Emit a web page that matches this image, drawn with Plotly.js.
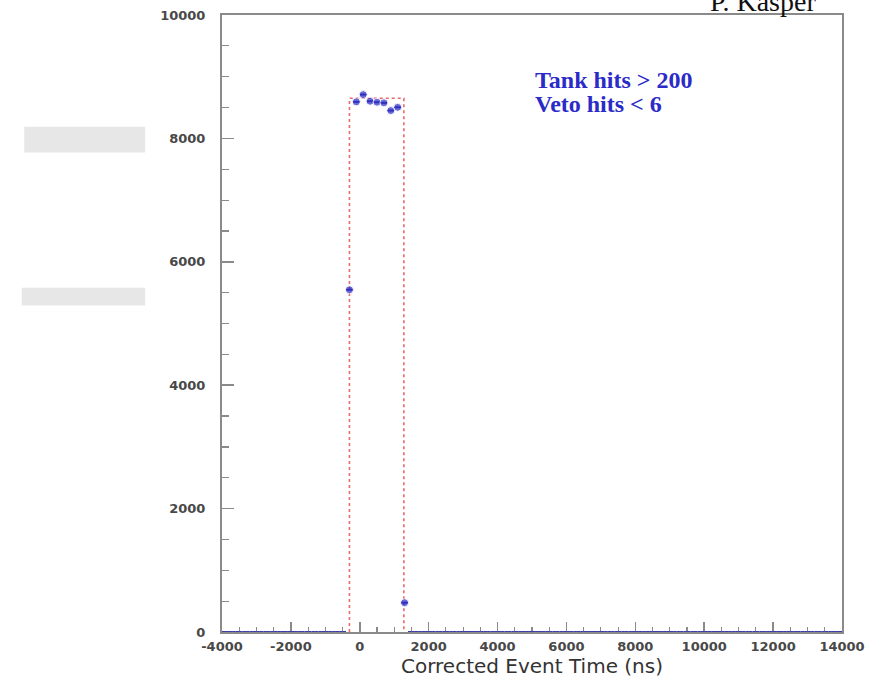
<!DOCTYPE html>
<html>
<head>
<meta charset="utf-8">
<script src="https://cdn.plot.ly/plotly-3.0.1.min.js"></script>
<style>
  html, body { margin: 0; padding: 0; background: #fff; }
  #chart { width: 886px; height: 683px; }
</style>
</head>
<body>
<div id="chart"></div>
<script>
// Histogram of corrected event times, 200 ns bins from -4000 to 14000 ns
const binCenters = [
  -3900, -3700, -3500, -3300, -3100, -2900, -2700, -2500, -2300, -2100,
  -1900, -1700, -1500, -1300, -1100, -900, -700, -500, -300, -100,
  100, 300, 500, 700, 900, 1100, 1300, 1500, 1700, 1900,
  2100, 2300, 2500, 2700, 2900, 3100, 3300, 3500, 3700, 3900,
  4100, 4300, 4500, 4700, 4900, 5100, 5300, 5500, 5700, 5900,
  6100, 6300, 6500, 6700, 6900, 7100, 7300, 7500, 7700, 7900,
  8100, 8300, 8500, 8700, 8900, 9100, 9300, 9500, 9700, 9900,
  10100, 10300, 10500, 10700, 10900, 11100, 11300, 11500, 11700, 11900,
  12100, 12300, 12500, 12700, 12900, 13100, 13300, 13500, 13700, 13900
];
const eventCounts = [
  0, 0, 0, 0, 0, 0, 0, 0, 0, 0,
  0, 0, 0, 0, 0, 0, 0, 0, 5547, 8592,
  8710, 8602, 8586, 8576, 8451, 8504, 475, 0, 0, 0,
  0, 0, 0, 0, 0, 0, 0, 0, 0, 0,
  0, 0, 0, 0, 0, 0, 0, 0, 0, 0,
  0, 0, 0, 0, 0, 0, 0, 0, 0, 0,
  0, 0, 0, 0, 0, 0, 0, 0, 0, 0,
  0, 0, 0, 0, 0, 0, 0, 0, 0, 0,
  0, 0, 0, 0, 0, 0, 0, 0, 0, 0
];
const binHalfWidth = 100;

// Beam gate window drawn as a dotted box
const gateX = [-300, -300, 1280, 1280];
const gateY = [0, 8650, 8650, 0];

const xTickVals = [-4000, -2000, 0, 2000, 4000, 6000, 8000, 10000, 12000, 14000];
const xTickText = ['-4000', '-2000', '0', '2000', '4000', '6000', '8000', '10000', '12000', '14000'];
const yTickVals = [0, 2000, 4000, 6000, 8000, 10000];
const yTickText = ['0', '2000', '4000', '6000', '8000', '10000'];

const cutLines = ['Tank hits > 200', 'Veto hits < 6'];
const author = 'P. Kasper';

const blue = '#2b2bc8';
const axisGrey = '#8a8a8a';
const tickFont = { family: 'DejaVu Sans', size: 13, color: '#484848', weight: 'bold' };
const cutFont = { family: 'Liberation Serif', size: 24, color: blue, weight: 'bold' };

const gate = {
  x: gateX, y: gateY, type: 'scatter', mode: 'lines',
  line: { color: '#e86a6a', width: 1.6, dash: 'dot' },
  hoverinfo: 'skip', cliponaxis: false
};

const hist = {
  x: binCenters, y: eventCounts, type: 'scatter', mode: 'markers',
  marker: { color: blue, size: eventCounts.map(c => (c > 0 ? 8 : 0.1)) },
  error_x: { type: 'constant', value: binHalfWidth, width: 0, thickness: 2, color: '#3a3aa8' },
  cliponaxis: false
};

const layout = {
  width: 886, height: 683,
  margin: { l: 222, r: 44, t: 15, b: 51 },
  paper_bgcolor: '#fff', plot_bgcolor: '#fff',
  showlegend: false,
  xaxis: {
    range: [-4000, 14000], tickvals: xTickVals, ticktext: xTickText,
    ticks: 'inside', ticklen: 10, tickwidth: 1.5, tickcolor: axisGrey,
    minor: { dtick: 500, ticks: 'inside', ticklen: 5, tickwidth: 1.2, tickcolor: axisGrey },
    showgrid: false, zeroline: false,
    showline: true, linecolor: axisGrey, linewidth: 2, mirror: true,
    layer: 'below traces',
    tickfont: tickFont, ticklabelstandoff: 1,
    title: { text: 'Corrected Event Time (ns)', font: { family: 'DejaVu Sans', size: 20, color: '#333' }, standoff: 0 }
  },
  yaxis: {
    range: [0, 10000], tickvals: yTickVals, ticktext: yTickText,
    ticks: 'inside', ticklen: 12, tickwidth: 1.5, tickcolor: axisGrey,
    minor: { dtick: 500, ticks: 'inside', ticklen: 7, tickwidth: 1.2, tickcolor: axisGrey },
    showgrid: false, zeroline: false,
    showline: true, linecolor: axisGrey, linewidth: 2, mirror: true,
    layer: 'below traces',
    tickfont: tickFont, ticklabelstandoff: 12
  },
  annotations: [
    {
      xref: 'paper', yref: 'paper', x: 0.501, y: 0.8946, xanchor: 'left', yanchor: 'middle',
      text: cutLines[0], showarrow: false, font: cutFont
    },
    {
      xref: 'paper', yref: 'paper', x: 0.501, y: 0.8556, xanchor: 'left', yanchor: 'middle',
      text: cutLines[1], showarrow: false, font: cutFont
    },
    {
      xref: 'paper', yref: 'paper', x: 0.873, y: 1.0, xanchor: 'center', yanchor: 'bottom',
      yshift: -4, text: author, showarrow: false,
      font: { family: 'Liberation Serif', size: 28, color: '#111' }
    }
  ],
  shapes: [
    { type: 'rect', xref: 'paper', yref: 'paper', x0: -0.319, x1: -0.124, y0: 0.777, y1: 0.819,
      fillcolor: '#e7e7e7', line: { width: 0 }, layer: 'below' },
    { type: 'rect', xref: 'paper', yref: 'paper', x0: -0.323, x1: -0.124, y0: 0.529, y1: 0.558,
      fillcolor: '#e7e7e7', line: { width: 0 }, layer: 'below' }
  ]
};

Plotly.newPlot('chart', [gate, hist], layout, { displayModeBar: false, staticPlot: true });
</script>
</body>
</html>
